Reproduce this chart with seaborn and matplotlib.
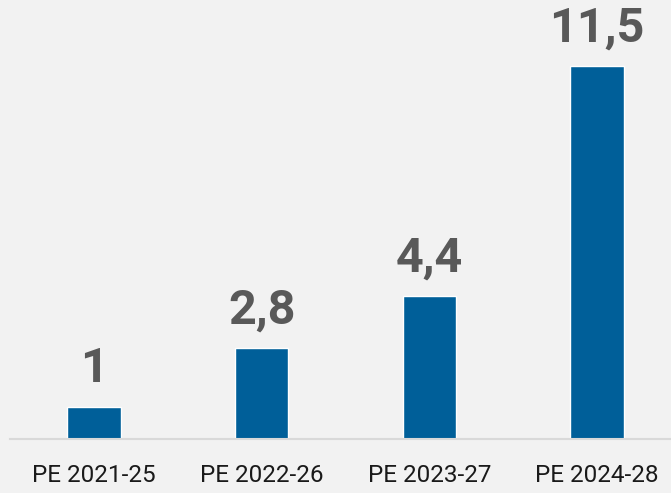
import matplotlib
matplotlib.use("Agg")
import matplotlib.pyplot as plt
import seaborn as sns
import pandas as pd

periods = ["PE 2021-25", "PE 2022-26", "PE 2023-27", "PE 2024-28"]
values = [1.0, 2.8, 4.4, 11.5]
labels = ["1", "2,8", "4,4", "11,5"]

df = pd.DataFrame({"periodo": periods, "valor": values})

sns.set_theme(style="white")
plt.rcParams["font.family"] = ["Roboto", "DejaVu Sans"]

fig = plt.figure(figsize=(6.71, 4.93), dpi=100, facecolor="#f2f2f2")
ax = fig.add_axes([10 / 671, 54 / 493, 661 / 671, 439 / 493])
ax.set_facecolor("#f2f2f2")

sns.barplot(data=df, x="periodo", y="valor", color="#005f99", saturation=1,
            width=0.32, ax=ax)

for i, (v, t) in enumerate(zip(values, labels)):
    ax.text(i, v + 0.45, t, ha="center", va="bottom", fontsize=35,
            fontweight="bold", color="#595959")

ax.set_xlim(-0.5, 3.44)
ax.set_ylim(0, 13.55)
ax.set_xlabel("")
ax.set_ylabel("")
ax.set_yticks([])
for s in ["top", "right", "left"]:
    ax.spines[s].set_visible(False)
ax.spines["bottom"].set_color("#d9d9d9")
ax.spines["bottom"].set_linewidth(1.5)
ax.tick_params(axis="x", length=0, pad=18, labelsize=17.5, labelcolor="#1a1a1a")

fig.savefig("out.png", dpi=100, facecolor="#f2f2f2")
